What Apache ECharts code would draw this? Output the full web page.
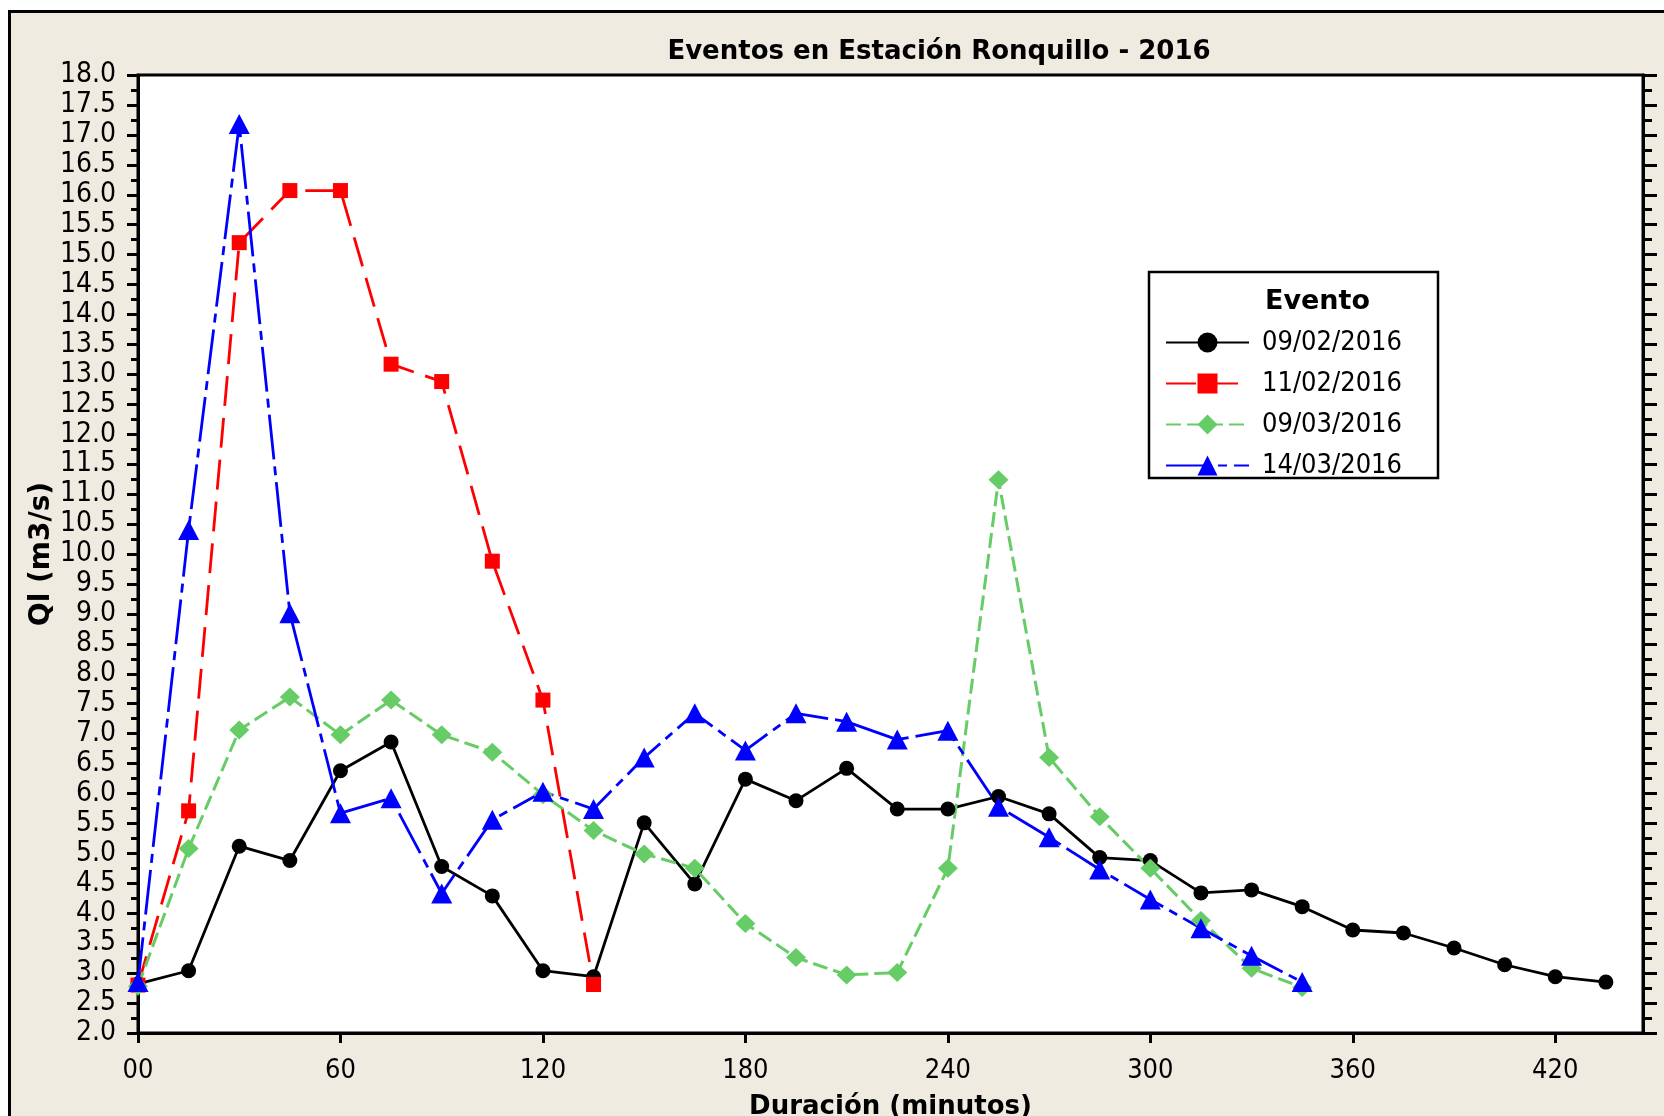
<!DOCTYPE html>
<html>
<head>
<meta charset="utf-8">
<script src="https://cdn.jsdelivr.net/npm/echarts@6/dist/echarts.min.js"></script>
<style>
html,body{margin:0;padding:0;background:#fff;}
#chart{width:1664px;height:1116px;}
</style>
</head>
<body>
<div id="chart"></div>
<script>
// ---- data ----
const minutes = [0,15,30,45,60,75,90,105,120,135,150,165,180,195,210,225,240,255,270,285,300,315,330,345,360,375,390,405,420,435];
const seriesNames = ['09/02/2016','11/02/2016','09/03/2016','14/03/2016'];
const q_0902 = [2.82,3.04,5.12,4.88,6.38,6.86,4.78,4.29,3.04,2.94,5.51,4.49,6.24,5.88,6.42,5.74,5.74,5.95,5.66,4.93,4.88,4.34,4.39,4.11,3.72,3.67,3.42,3.14,2.94,2.85];
const q_1102 = [2.80,5.71,15.20,16.07,16.07,13.17,12.88,9.88,7.56,2.81];
const q_0903 = [2.78,5.08,7.06,7.61,6.98,7.56,6.98,6.69,5.98,5.38,4.99,4.75,3.83,3.26,2.97,3.01,4.75,11.24,6.60,5.61,4.75,3.88,3.08,2.76];
const q_1403 = [2.85,10.40,17.18,9.01,5.67,5.92,4.33,5.56,6.03,5.74,6.60,7.34,6.72,7.34,7.20,6.90,7.05,5.78,5.27,4.73,4.23,3.75,3.29,2.85];
const xTickLabels = ['00','60','120','180','240','300','360','420'];
const titleText = 'Eventos en Estación Ronquillo - 2016';
const xName = 'Duración (minutos)';
const yName = 'Ql (m3/s)';
const legendTitle = 'Evento';

const pair = vals => vals.map((v, i) => [minutes[i], v]);

const COND = "'DejaVu Sans Condensed','Liberation Sans Narrow','DejaVu Sans',sans-serif";
const BOLD = "'DejaVu Sans',sans-serif";

const chart = echarts.init(document.getElementById('chart'));
const yAxisBase = {
  type: 'value', min: 2, max: 18, interval: 0.5,
  splitLine: {show: false},
  axisLine: {show: true, lineStyle: {color: '#000', width: 3}},
  axisTick: {show: true, length: 11, lineStyle: {color: '#000', width: 3}},
  minorTick: {show: true, splitNumber: 2, length: 7, lineStyle: {color: '#000', width: 3}},
  minorSplitLine: {show: false}
};
const option = {
  backgroundColor: '#F0EBE0',
  animation: false,
  grid: {left: 138, right: 21, top: 75, bottom: 83, outerBoundsMode: 'none', containLabel: false,
    show: true, backgroundColor: '#fff', borderColor: '#000', borderWidth: 3},
  xAxis: {
    type: 'value', min: 0, max: 446, interval: 60,
    splitLine: {show: false},
    axisLine: {show: true, lineStyle: {color: '#000', width: 3}},
    axisTick: {show: true, length: 10, lineStyle: {color: '#000', width: 3}},
    axisLabel: {color: '#000', fontFamily: COND, fontSize: 27, margin: 24, showMaxLabel: false,
      formatter: v => (v % 60 === 0 ? xTickLabels[v / 60] : '')},
    name: xName, nameLocation: 'middle', nameGap: 61, nameMoveOverlap: false,
    nameTextStyle: {color: '#000', fontFamily: BOLD, fontWeight: 'bold', fontSize: 26}
  },
  yAxis: [
    Object.assign({}, yAxisBase, {
      position: 'left',
      axisLabel: {color: '#000', fontFamily: COND, fontSize: 28, margin: 22, padding: [7, 0, 0, 0],
        formatter: v => v.toFixed(1)},
      name: yName, nameLocation: 'middle', nameGap: 82, nameRotate: 90, nameMoveOverlap: false,
      nameTextStyle: {color: '#000', fontFamily: BOLD, fontWeight: 'bold', fontSize: 28}
    }),
    Object.assign({}, yAxisBase, {
      position: 'right',
      axisLabel: {show: false},
      axisTick: {show: true, length: 14, lineStyle: {color: '#000', width: 3}},
      minorTick: {show: true, splitNumber: 2, length: 9, lineStyle: {color: '#000', width: 3}}
    })
  ],
  legend: {
    orient: 'vertical', left: 1160, top: 324, z: 8,
    itemWidth: 83, itemHeight: 25, itemGap: 14,
    textStyle: {color: '#000', fontFamily: COND, fontSize: 27, lineHeight: 25, padding: [0, 0, 0, 8]},
    data: seriesNames
  },
  graphic: [
    {type: 'rect', shape: {x: 0, y: 0, width: 1664, height: 10}, style: {fill: '#fff'}, silent: true},
    {type: 'rect', shape: {x: 0, y: 0, width: 8, height: 1116}, style: {fill: '#fff'}, silent: true},
    {type: 'line', shape: {x1: 8, y1: 11.5, x2: 1664, y2: 11.5}, style: {stroke: '#000', lineWidth: 3}, silent: true},
    {type: 'line', shape: {x1: 9.5, y1: 10, x2: 9.5, y2: 1116}, style: {stroke: '#000', lineWidth: 3}, silent: true},
    {type: 'text', x: 939, y: 52, style: {text: titleText, textAlign: 'center', textVerticalAlign: 'middle',
      font: "bold 26px 'DejaVu Sans', sans-serif", fill: '#000'}, silent: true},
    {type: 'rect', shape: {x: 1149, y: 272, width: 289, height: 206}, style: {fill: '#fff', stroke: '#000', lineWidth: 2.5}, z: 5, silent: true},
    {type: 'text', x: 1265, y: 302, style: {text: legendTitle, textAlign: 'left', textVerticalAlign: 'middle',
      font: "bold 27px 'DejaVu Sans', sans-serif", fill: '#000'}, z: 6, silent: true}
  ],
  series: [
    {name: seriesNames[0], type: 'line', data: pair(q_0902), symbol: 'circle', symbolSize: 15,
      lineStyle: {color: '#000', width: 2.8, type: 'solid'}, itemStyle: {color: '#000'}},
    {name: seriesNames[1], type: 'line', data: pair(q_1102), symbol: 'rect', symbolSize: 15,
      lineStyle: {color: '#FF0000', width: 2.8, type: [30, 12]}, itemStyle: {color: '#FF0000'}},
    {name: seriesNames[2], type: 'line', data: pair(q_0903), symbol: 'diamond', symbolSize: [20, 19],
      lineStyle: {color: '#66CC66', width: 3, type: [15, 6]}, itemStyle: {color: '#66CC66'}},
    {name: seriesNames[3], type: 'line', data: pair(q_1403), symbol: 'triangle', symbolSize: [21, 20],
      lineStyle: {color: '#0000FF', width: 2.8, type: [45, 7, 9, 7]}, itemStyle: {color: '#0000FF'}}
  ]
};
chart.setOption(option);
</script>
</body>
</html>
